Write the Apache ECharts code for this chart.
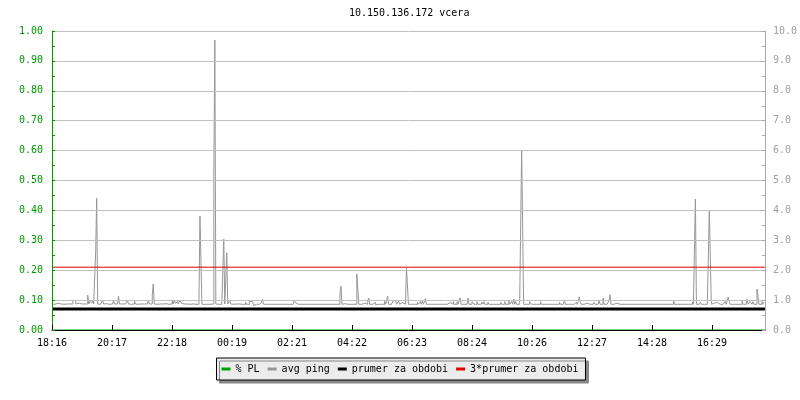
<!DOCTYPE html>
<html>
<head>
<meta charset="utf-8">
<script src="https://cdn.jsdelivr.net/npm/echarts@6/dist/echarts.min.js"></script>
<style>html,body{margin:0;padding:0;background:#fff;}#c{width:800px;height:400px;}</style>
</head>
<body>
<div id="c"></div>
<script>
// time labels every 121.2 minutes starting at 18:16
var timeLabels = ['18:16','20:17','22:18','00:19','02:21','04:22','06:23','08:24','10:26','12:27','14:28','16:29'];
var spanMinutes = 1440;
var sampleCount = 718;

// avg ping [ms], one value per sample (~2 minutes), in 2-hour blocks
var ping0 = [0.87,0.88,0.86,0.87,0.87,0.9,0.87,0.86,0.87,0.87,
  0.87,0.86,0.87,0.88,0.87,0.87,0.86,0.87,0.9,0.87,
  0.87,1.0,1.02,0.98,0.87,0.87,0.9,0.87,0.86,0.87,
  0.87,0.88,0.87,0.87,0.9,0.87,1.17,0.87,0.95,1.0,
  0.92,1.0,0.87,0.87,2.64,4.41,0.87,0.87,0.86,0.87,
  0.87,1.0,0.87,0.87,0.88,0.87,0.87,0.86,0.87,0.87];
var ping1 = [0.87,0.87,1.0,0.87,0.86,0.87,0.9,1.13,0.87,0.87,
  0.87,0.86,0.87,0.87,0.88,0.87,1.0,0.87,0.87,0.86,
  0.87,0.87,0.87,0.98,0.87,0.87,0.86,0.87,0.87,0.87,
  0.88,0.87,0.87,0.86,0.87,0.87,0.9,1.0,0.87,0.87,
  0.87,1.19,1.54,0.87,0.87,0.86,0.87,0.87,0.87,0.87,
  0.86,0.87,0.87,0.87,0.88,0.87,0.87,0.86,0.87,0.87];
var ping2 = [0.87,0.98,0.87,1.0,0.9,0.87,0.95,0.87,0.87,1.0,
  0.9,0.95,0.87,0.87,0.86,0.87,0.87,0.87,0.86,0.87,
  0.87,0.87,0.86,0.86,0.86,0.86,0.86,0.86,0.86,3.81,
  2.34,0.86,0.86,0.86,0.86,0.86,0.86,0.86,0.86,0.86,
  0.86,0.86,0.87,5.28,9.7,0.87,0.86,0.86,0.86,0.86,
  0.86,0.86,1.94,3.04,0.87,1.71,2.58,0.87,0.87,1.0];
var ping3 = [0.87,0.87,0.86,0.87,0.87,0.87,0.86,0.87,0.87,0.86,
  0.86,0.86,0.86,0.87,0.86,0.93,0.86,0.86,0.86,0.95,
  0.93,0.95,0.92,0.82,0.86,0.86,0.86,0.9,0.86,0.86,
  0.86,0.93,1.03,0.86,0.86,0.86,0.86,0.86,0.86,0.86,
  0.86,0.86,0.86,0.86,0.86,0.86,0.86,0.86,0.86,0.86,
  0.86,0.86,0.86,0.86,0.86,0.86,0.86,0.86,0.86,0.86];
var ping4 = [0.86,0.86,0.86,0.86,0.99,0.92,0.86,0.86,0.86,0.86,
  0.86,0.86,0.86,0.86,0.86,0.86,0.86,0.86,0.86,0.86,
  0.86,0.86,0.86,0.86,0.82,0.86,0.86,0.86,0.86,0.86,
  0.86,0.86,0.86,0.86,0.86,0.86,0.86,0.86,0.86,0.86,
  0.86,0.86,0.86,0.86,0.86,0.86,0.86,0.9,0.86,0.86,
  1.17,1.47,0.86,0.9,0.88,0.9,0.9,0.86,0.86,0.86];
var ping5 = [0.86,0.86,0.86,0.86,0.86,0.86,0.86,1.87,1.37,0.86,
  0.86,0.86,0.86,0.86,0.9,0.86,0.86,0.86,0.97,1.07,
  0.86,0.86,0.86,0.92,0.9,0.92,0.84,0.86,0.86,0.86,
  0.86,0.86,0.86,0.86,0.86,0.97,0.86,0.95,1.13,0.86,
  0.86,0.86,0.86,0.95,0.97,1.0,0.95,0.86,0.86,0.97,
  0.86,0.86,0.92,0.86,0.86,0.86,0.86,2.08,1.47,0.86];
var ping6 = [0.86,0.86,0.86,0.86,0.86,0.86,0.92,0.86,0.93,0.86,
  0.86,0.95,0.86,0.97,0.86,0.86,1.05,0.86,0.92,0.86,
  0.86,0.86,0.86,0.86,0.86,0.86,0.86,0.86,0.86,0.86,
  0.9,0.86,0.86,0.86,0.86,0.86,0.86,0.86,0.86,0.86,
  0.92,0.86,0.93,0.86,0.95,0.86,0.92,0.86,0.95,0.86,
  0.86,1.07,0.86,0.92,0.86,0.86,0.86,0.86,0.86,1.07];
var ping7 = [0.86,0.86,0.86,0.95,0.93,0.86,0.92,0.86,0.95,0.86,
  0.86,0.86,0.86,0.93,0.86,0.95,0.86,0.92,0.86,0.93,
  0.86,0.86,0.86,0.86,0.86,0.86,0.86,0.86,0.86,0.86,
  0.86,0.86,0.93,0.86,0.86,0.86,0.95,0.86,0.86,0.86,
  0.97,0.86,0.86,0.95,0.86,1.04,0.86,0.95,0.86,0.86,
  0.86,0.86,0.86,6.0,3.45,0.86,0.9,0.86,0.86,0.86];
var ping8 = [0.86,0.95,0.97,0.86,0.92,0.86,0.86,0.86,0.86,0.86,
  0.86,0.86,0.95,0.86,0.86,0.86,0.86,0.86,0.86,0.86,
  0.9,0.86,0.86,0.86,0.86,0.86,0.86,0.86,0.92,0.86,
  0.86,0.93,0.86,0.86,0.86,0.86,1.0,0.86,0.86,0.86,
  0.86,0.86,0.86,0.86,0.86,0.86,0.86,0.86,0.93,0.86,
  0.95,1.11,0.95,0.86,0.86,0.86,0.86,0.86,0.9,0.86];
var ping9 = [0.86,0.86,0.86,0.92,0.86,0.86,0.93,0.86,0.86,0.86,
  0.86,0.98,0.86,0.86,0.86,1.07,0.86,0.86,0.86,0.86,
  0.86,0.98,1.18,0.86,0.86,0.86,0.86,0.86,0.9,0.86,
  0.86,0.86,0.86,0.86,0.86,0.86,0.86,0.86,0.86,0.86,
  0.86,0.86,0.86,0.86,0.86,0.9,0.86,0.86,0.86,0.86,
  0.86,0.9,0.86,0.86,0.86,0.86,0.86,0.86,0.86,0.86];
var ping10 = [0.86,0.86,0.86,0.86,0.86,0.86,0.86,0.86,0.89,0.86,
  0.86,0.86,0.89,0.86,0.86,0.89,0.86,0.86,0.89,0.86,
  0.86,0.86,0.86,0.86,0.86,0.86,0.99,0.86,0.86,0.86,
  0.86,0.86,0.86,0.86,0.86,0.86,0.86,0.86,0.86,0.86,
  0.86,0.86,0.86,0.86,0.86,0.93,0.86,2.64,4.38,0.86,
  0.86,0.86,0.86,0.93,0.86,0.9,0.86,0.92,0.86,0.86];
var ping11 = [0.86,0.86,4.01,2.44,0.86,0.86,0.9,0.86,0.86,0.92,
  0.86,0.86,0.86,0.86,0.86,0.86,0.86,0.86,0.95,0.86,
  0.86,1.1,0.95,0.86,0.86,0.86,0.86,0.86,0.86,0.86,
  0.86,0.86,0.86,0.86,0.86,0.97,0.86,0.86,0.86,0.86,
  1.03,0.86,0.86,0.95,0.93,0.86,0.95,0.86,0.86,0.86,
  1.37,1.13,0.86,0.86,0.86,0.95,0.86,0.93];

// packet loss [%] (zero for the whole period)
var plTimes = [0, 1440];
var plValues = [0, 0];
// period mean and 3x mean [ms]
var meanValue = 0.70;
var threeMeanValue = 2.1;

var seriesNames = ['% PL', 'avg ping', 'prumer za obdobi', '3*prumer za obdobi'];
var titleText = '10.150.136.172 vcera';

var ping = [].concat(ping0, ping1, ping2, ping3, ping4, ping5, ping6, ping7, ping8, ping9, ping10, ping11);
var minutesPerSample = spanMinutes / sampleCount;
var pingData = ping.map(function (v, i) { return [i * minutesPerSample, v]; });
var plData = plTimes.map(function (t, i) { return [t, plValues[i]]; });
var labelInterval = 121.2;

var mono = 'DejaVu Sans Mono';
var chart = echarts.init(document.getElementById('c'), null, { renderer: 'canvas' });
chart.setOption({
  animation: false,
  backgroundColor: '#ffffff',
  title: {
    text: titleText, left: 349, top: 8, padding: 0,
    textStyle: { fontFamily: mono, fontSize: 10, fontWeight: 'normal', color: '#000' }
  },
  grid: { left: 52, right: 30, top: 31, bottom: 70 },
  legend: {
    data: seriesNames, left: 'center', top: 358,
    icon: 'rect', itemWidth: 9, itemHeight: 3, itemGap: 8,
    padding: [6, 7, 6, 5],
    backgroundColor: '#ececec', borderColor: '#000', borderWidth: 1,
    shadowColor: '#888', shadowOffsetX: 3, shadowOffsetY: 3, shadowBlur: 0,
    textStyle: { fontFamily: mono, fontSize: 10, color: '#000' }
  },
  xAxis: {
    type: 'value', min: 0, max: spanMinutes, interval: labelInterval, z: 5,
    axisLine: { lineStyle: { color: '#000', width: 1 } },
    axisTick: { inside: true, length: 5, lineStyle: { color: '#000' } },
    splitLine: { show: false },
    axisLabel: {
      showMaxLabel: false, margin: 8, color: '#000', fontFamily: mono, fontSize: 10,
      formatter: function (v) { var k = Math.round(v / labelInterval); return timeLabels[k] || ''; }
    }
  },
  yAxis: [{
    type: 'value', min: 0, max: 1, interval: 0.1, position: 'left', z: 5,
    axisLine: { show: true, lineStyle: { color: '#009900', width: 1 } },
    axisTick: { show: true, inside: true, length: 3, lineStyle: { color: '#009900' } },
    minorTick: { show: true, splitNumber: 2, length: 3, lineStyle: { color: '#009900' } },
    splitLine: { show: true, lineStyle: { color: '#c0c0c0', width: 1 } },
    axisLabel: { margin: 9, color: '#009900', fontFamily: mono, fontSize: 10,
      formatter: function (v) { return v.toFixed(2); } }
  }, {
    type: 'value', min: 0, max: 10, interval: 1, position: 'right', z: 5,
    axisLine: { show: true, lineStyle: { color: '#a8a8a8', width: 1 } },
    axisTick: { show: true, inside: true, length: 3, lineStyle: { color: '#a8a8a8' } },
    minorTick: { show: true, splitNumber: 2, length: 3, lineStyle: { color: '#a8a8a8' } },
    splitLine: { show: false },
    axisLabel: { margin: 8, color: '#a0a0a0', fontFamily: mono, fontSize: 10,
      formatter: function (v) { return v.toFixed(1); } }
  }],
  series: [{
    name: seriesNames[0], type: 'line', yAxisIndex: 0, data: plData,
    symbol: 'none', color: '#00a000', lineStyle: { width: 1 }, z: 1
  }, {
    name: seriesNames[1], type: 'line', yAxisIndex: 1, data: pingData, step: 'end',
    symbol: 'none', color: '#969696', lineStyle: { width: 1, color: '#969696' }, z: 2
  }, {
    name: seriesNames[2], type: 'line', yAxisIndex: 1, data: [[0, meanValue], [spanMinutes, meanValue]],
    symbol: 'none', color: '#000000', lineStyle: { width: 3, color: '#000' }, z: 3
  }, {
    name: seriesNames[3], type: 'line', yAxisIndex: 1, data: [[0, threeMeanValue], [spanMinutes, threeMeanValue]],
    symbol: 'none', color: '#e00000', lineStyle: { width: 1, color: '#e00000' }, z: 3
  }]
});
</script>
</body>
</html>
